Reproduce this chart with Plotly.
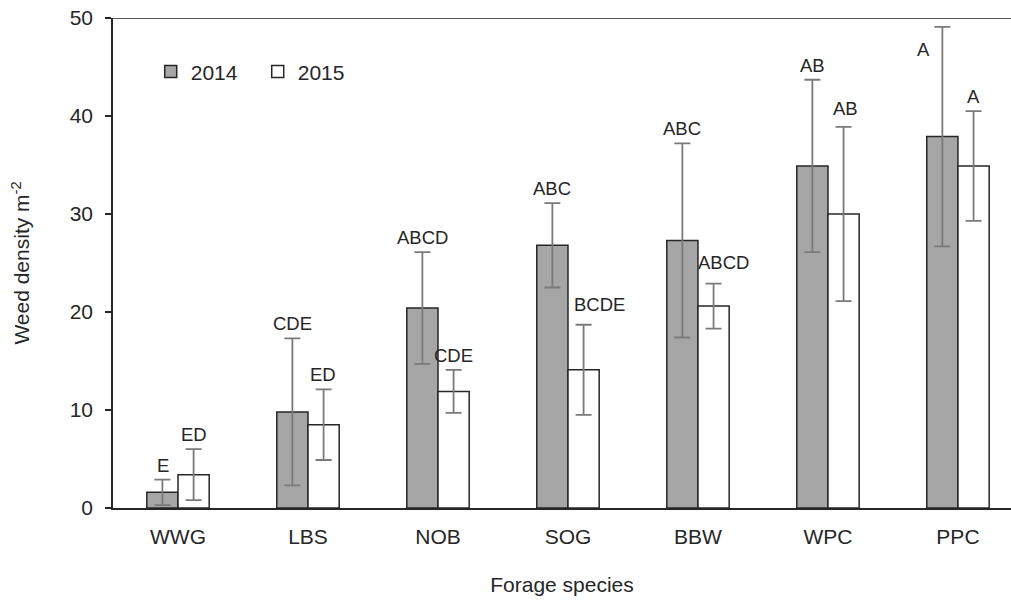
import plotly.graph_objects as go

species = ["WWG", "LBS", "NOB", "SOG", "BBW", "WPC", "PPC"]
years = ["2014", "2015"]
density_2014 = [1.6, 9.8, 20.4, 26.8, 27.3, 34.9, 37.9]
error_2014 = [1.3, 7.5, 5.7, 4.3, 9.9, 8.8, 11.2]
density_2015 = [3.4, 8.5, 11.9, 14.1, 20.6, 30.0, 34.9]
error_2015 = [2.6, 3.6, 2.2, 4.6, 2.3, 8.9, 5.6]
letters_2014 = ["E", "CDE", "ABCD", "ABC", "ABC", "AB", "A"]
letters_2015 = ["ED", "ED", "CDE", "BCDE", "ABCD", "AB", "A"]

FONT = "Liberation Sans, Arial, sans-serif"
TXT = "#262626"

fig = go.Figure()
fig.add_trace(go.Bar(
    x=species, y=density_2014, name=years[0],
    marker=dict(color="#a6a6a6", line=dict(color="#262626", width=1.5)),
    error_y=dict(type="data", array=error_2014, color="#7a7a7a", thickness=1.8, width=8),
))
fig.add_trace(go.Bar(
    x=species, y=density_2015, name=years[1],
    marker=dict(color="#ffffff", line=dict(color="#262626", width=1.5)),
    error_y=dict(type="data", array=error_2015, color="#7a7a7a", thickness=1.8, width=8),
))

# letter annotations above bars
half = 15.5  # px offset of each bar center from the category center
special = {  # (series, index): (xshift extra, yshift, yanchor)
    (1, 3): (16, 8, "bottom"),
    (1, 4): (10, 9, "bottom"),
    (1, 5): (2, 6, "bottom"),
    (0, 6): (-19, -10, "top"),
}
for s, (vals, errs, labs) in enumerate([(density_2014, error_2014, letters_2014),
                                         (density_2015, error_2015, letters_2015)]):
    for i, (v, e, lab) in enumerate(zip(vals, errs, labs)):
        dx, dy, ya = special.get((s, i), (0, 2, "bottom"))
        fig.add_annotation(
            x=species[i], y=v + e, xref="x", yref="y", text=lab, showarrow=False,
            xshift=(-half if s == 0 else half) + dx, yshift=dy, yanchor=ya,
            font=dict(family=FONT, size=18.5, color=TXT),
        )

# top border line at 50
fig.add_shape(type="line", xref="paper", yref="y", x0=0, x1=1, y0=50, y1=50,
              line=dict(color="#262626", width=1.5))

fig.update_layout(
    width=1011, height=602,
    margin=dict(l=113, r=0, t=18, b=94),
    paper_bgcolor="white", plot_bgcolor="white",
    barmode="group", bargap=0.52, bargroupgap=0,
    font=dict(family=FONT, size=20, color=TXT),
    showlegend=True,
    legend=dict(orientation="h", x=0.042, y=0.89, xanchor="left", yanchor="middle",
                font=dict(family=FONT, size=21, color=TXT), bgcolor="rgba(0,0,0,0)",
                itemwidth=30, entrywidth=62, entrywidthmode="pixels", tracegroupgap=0),
    xaxis=dict(
        type="category", range=[-0.5, 6.408], showline=True, linecolor="#262626", linewidth=1.5,
        ticks="", showgrid=False, zeroline=False, ticklabelstandoff=9,
        tickfont=dict(family=FONT, size=21, color=TXT),
        title=dict(text="Forage species", standoff=30, font=dict(family=FONT, size=21, color=TXT)),
    ),
    yaxis=dict(
        range=[0, 50], tickvals=[0, 10, 20, 30, 40, 50], showline=True, linecolor="#262626",
        linewidth=1.5, ticks="outside", ticklen=6, tickcolor="#262626", tickwidth=1.5,
        showgrid=False, zeroline=False, ticklabelstandoff=8,
        tickfont=dict(family=FONT, size=21, color=TXT),
        title=dict(text="Weed density m<sup>-2</sup>", standoff=34,
                   font=dict(family=FONT, size=21, color=TXT)),
    ),
)

fig.write_html("out.html")
